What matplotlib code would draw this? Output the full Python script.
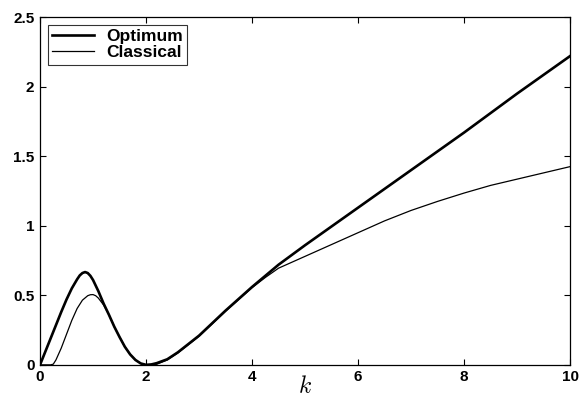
import matplotlib
matplotlib.use("Agg")
import matplotlib.pyplot as plt

# values
k_opt = [0, 0.1, 0.2, 0.3, 0.4, 0.5, 0.6, 0.7, 0.75, 0.8, 0.85, 0.9, 0.95,
         1.0, 1.1, 1.2, 1.3, 1.4, 1.5, 1.6, 1.7, 1.8, 1.9, 2.0, 2.1, 2.2,
         2.4, 2.6, 2.8, 3.0, 3.5, 4.0, 4.5, 5, 6, 7, 8, 9, 10]
optimum = [0, 0.095, 0.19, 0.285, 0.38, 0.47, 0.55, 0.615, 0.643, 0.66,
           0.667, 0.66, 0.64, 0.61, 0.53, 0.44, 0.36, 0.275, 0.20, 0.13,
           0.075, 0.035, 0.01, 0.0, 0.003, 0.012, 0.04, 0.09, 0.15, 0.21,
           0.39, 0.56, 0.72, 0.86, 1.13, 1.40, 1.67, 1.95, 2.22]

k_cla = [0, 0.2, 0.25, 0.3, 0.4, 0.5, 0.6, 0.7, 0.8, 0.9, 0.95, 1.0, 1.05,
         1.1, 1.2, 1.3, 1.4, 1.5, 1.6, 1.7, 1.8, 1.9, 2.0, 2.1, 2.2, 2.4,
         2.6, 2.8, 3.0, 3.5, 4.0, 4.25, 4.5, 5, 5.5, 6, 6.5, 7, 7.5, 8, 8.5,
         9, 9.5, 10]
classical = [0, 0, 0.005, 0.035, 0.12, 0.22, 0.32, 0.405, 0.465, 0.497,
             0.504, 0.505, 0.497, 0.48, 0.43, 0.36, 0.275, 0.20, 0.13, 0.075,
             0.035, 0.01, 0.0, 0.0, 0.004, 0.035, 0.085, 0.145, 0.205, 0.385,
             0.555, 0.628, 0.695, 0.78, 0.865, 0.95, 1.035, 1.11, 1.175,
             1.235, 1.29, 1.335, 1.38, 1.425]

xticks = [0, 2, 4, 6, 8, 10]
yticks = [0, 0.5, 1, 1.5, 2, 2.5]
yticklabels = ["0", "0.5", "1", "1.5", "2", "2.5"]

plt.rcParams["font.family"] = ["Liberation Sans", "DejaVu Sans"]
plt.rcParams["mathtext.fontset"] = "cm"

fig = plt.figure(figsize=(5.8, 3.97), dpi=100)
ax = fig.add_axes([0.069, 0.081, 0.914, 0.876])

ax.plot(k_opt, optimum, color="black", lw=1.9, label="Optimum")
ax.plot(k_cla, classical, color="black", lw=0.9, label="Classical")

ax.set_xlim(0, 10)
ax.set_ylim(0, 2.5)
ax.set_xticks(xticks)
ax.set_yticks(yticks)
ax.set_yticklabels(yticklabels)
ax.tick_params(direction="in", length=4, width=0.8, top=True, right=True,
               labelsize=11, pad=4)
for lab in ax.get_xticklabels() + ax.get_yticklabels():
    lab.set_fontweight("bold")
for sp in ax.spines.values():
    sp.set_linewidth(0.9)

ax.set_xlabel("$k$", fontsize=17, labelpad=-6)

leg = ax.legend(loc="upper left", frameon=True, fancybox=False,
                edgecolor="black", handlelength=2.4, handletextpad=0.7,
                borderaxespad=0.45, borderpad=0.25, labelspacing=0.05,
                prop={"weight": "bold", "size": 12.5})
leg.get_frame().set_linewidth(0.8)

fig.savefig("out.png", dpi=100)
